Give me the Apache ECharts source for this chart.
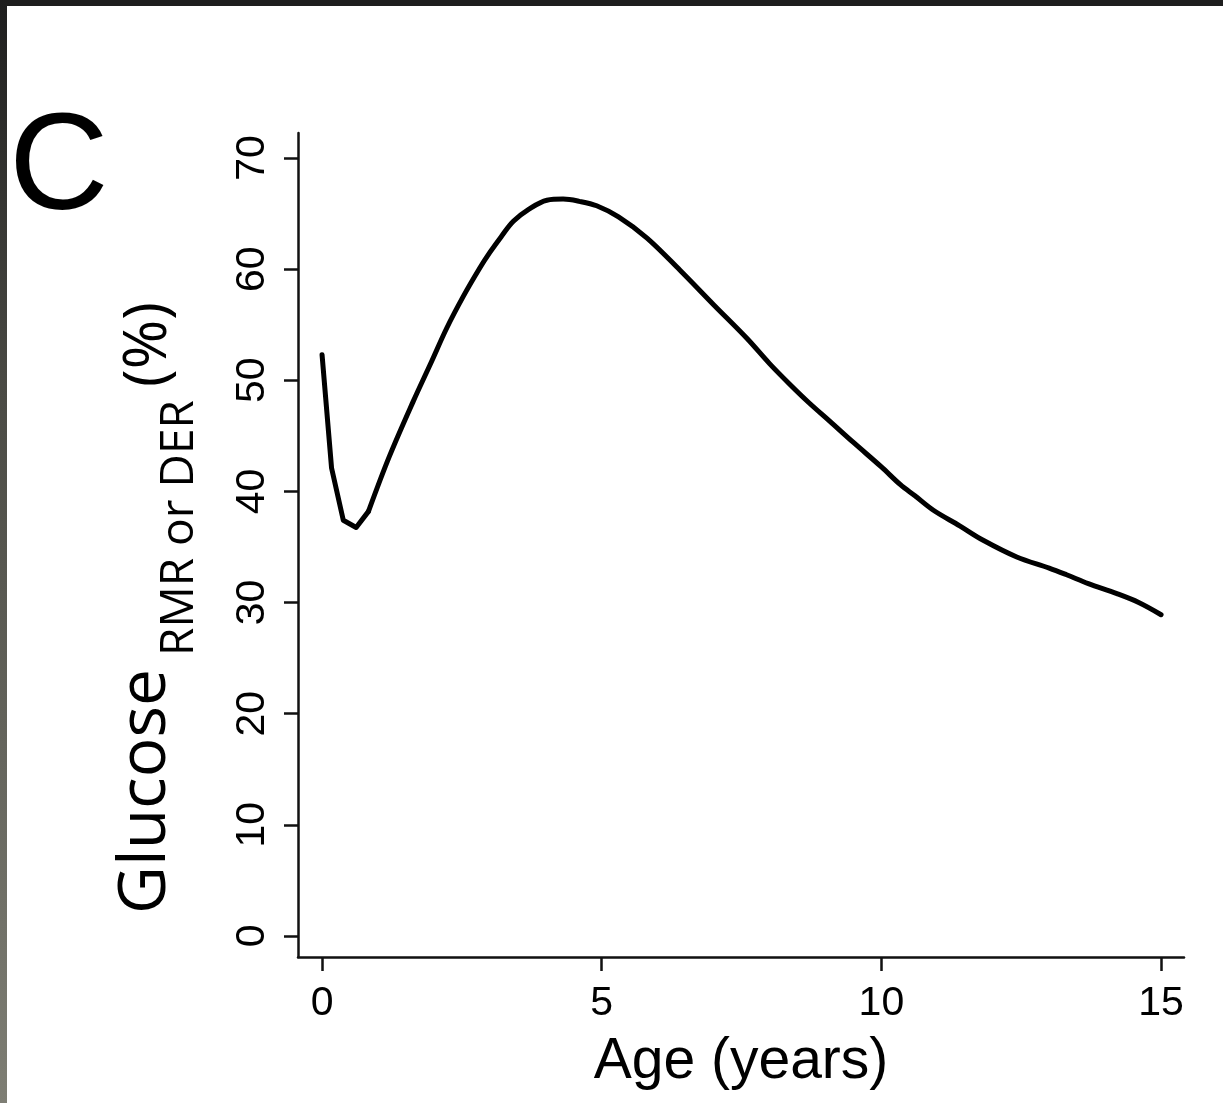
<!DOCTYPE html>
<html>
<head>
<meta charset="utf-8">
<script src="https://cdn.jsdelivr.net/npm/echarts@6/dist/echarts.min.js"></script>
<style>
html,body{margin:0;padding:0;background:#fff;}
#chart{width:1223px;height:1103px;}
</style>
</head>
<body>
<div id="chart"></div>
<script>
// Age in years
const ageYears = [0, 0.17, 0.38, 0.61, 0.83, 1.2, 1.63, 1.95, 2.23, 2.52, 2.82, 3.0, 3.2, 3.42, 3.7, 4.02, 4.31, 4.6, 4.91, 5.3, 5.81, 6.4, 7.0, 7.59, 8.0, 8.37, 8.7, 9.08, 9.5, 10.0, 10.34, 10.6, 10.93, 11.4, 11.82, 12.42, 13.0, 13.31, 13.7, 14.21, 14.6, 15.0];
// Glucose share of RMR or DER (%)
const glucosePct = [52.3, 42.1, 37.4, 36.75, 38.2, 43.1, 48.1, 51.6, 54.7, 57.5, 60.1, 61.5, 62.9, 64.3, 65.4, 66.2, 66.3, 66.1, 65.7, 64.7, 62.8, 59.9, 56.8, 53.8, 51.5, 49.6, 48.0, 46.3, 44.4, 42.2, 40.6, 39.6, 38.3, 36.9, 35.6, 34.1, 33.1, 32.5, 31.7, 30.8, 30.0, 28.9];
const xTicks = [0, 5, 10, 15];
const yTicks = [0, 10, 20, 30, 40, 50, 60, 70];

const pairs = ageYears.map((a, i) => [a, glucosePct[i]]);
// the early dip is drawn with straight segments, the rest as a smooth curve
const kinkEnd = 4;
const dipData = pairs.slice(0, kinkEnd + 1);
const curveData = pairs.slice(kinkEnd);

const chart = echarts.init(document.getElementById('chart'), null, {renderer: 'canvas'});
const axisColor = '#111';
const labelFont = '"Liberation Sans", Arial, sans-serif';
const lineStyle = {color: '#000', width: 5, join: 'round', cap: 'round'};

const option = {
  backgroundColor: '#ffffff',
  animation: false,
  grid: {left: 298, right: 39, top: 133, bottom: 146, containLabel: false},
  xAxis: {
    type: 'value',
    min: -0.43,
    max: 15.41,
    name: 'Age (years)',
    nameLocation: 'middle',
    nameGap: 77,
    nameTextStyle: {fontSize: 57, color: '#000', fontFamily: labelFont},
    axisLine: {show: true, onZero: false, lineStyle: {color: axisColor, width: 2.5}},
    axisTick: {show: true, customValues: xTicks, length: 14, lineStyle: {color: axisColor, width: 2.5}},
    axisLabel: {customValues: xTicks, fontSize: 41, color: '#000', fontFamily: labelFont, margin: 26},
    splitLine: {show: false}
  },
  yAxis: {
    type: 'value',
    min: -1.9,
    max: 72.25,
    axisLine: {show: true, onZero: false, lineStyle: {color: axisColor, width: 2.5}},
    axisTick: {show: true, customValues: yTicks, length: 14, lineStyle: {color: axisColor, width: 2.5}},
    axisLabel: {customValues: yTicks, fontSize: 41, color: '#000', fontFamily: labelFont, margin: 25, rotate: 90},
    splitLine: {show: false}
  },
  series: [{
    type: 'line',
    data: dipData,
    showSymbol: false,
    smooth: false,
    lineStyle: lineStyle,
    silent: true
  }, {
    type: 'line',
    data: curveData,
    showSymbol: false,
    smooth: 0.35,
    lineStyle: lineStyle,
    silent: true
  }],
  graphic: [
    {type: 'rect', shape: {x: 0, y: 0, width: 1223, height: 6}, style: {fill: '#1e1e1e'}, silent: true},
    {type: 'rect', shape: {x: 0, y: 0, width: 7, height: 1103}, style: {
      fill: new echarts.graphic.LinearGradient(0, 0, 0, 1, [{offset: 0, color: '#1e1e1e'}, {offset: 0.35, color: '#4a4a44'}, {offset: 1, color: '#7e7e74'}])
    }, silent: true},
    {type: 'text', x: 9, y: 171, style: {text: 'C', font: '138px "Liberation Sans", Arial, sans-serif', fill: '#000', align: 'left', verticalAlign: 'middle'}, silent: true},
    {
      type: 'group', x: 146, y: 914, rotation: Math.PI / 2, silent: true,
      children: [
        {type: 'text', x: 0, y: 0, style: {text: 'Glucose', font: '66px "Open Sans", sans-serif', fill: '#000', align: 'left', verticalAlign: 'middle'}},
        {type: 'text', x: 258, y: 34, style: {text: 'RMR or DER', font: '46px "Open Sans", sans-serif', fill: '#000', align: 'left', verticalAlign: 'middle'}},
        {type: 'text', x: 527, y: 3, style: {text: '(%)', font: '60px "Open Sans", sans-serif', fill: '#000', align: 'left', verticalAlign: 'middle'}}
      ]
    }
  ]
};
chart.setOption(option);
</script>
</body>
</html>
